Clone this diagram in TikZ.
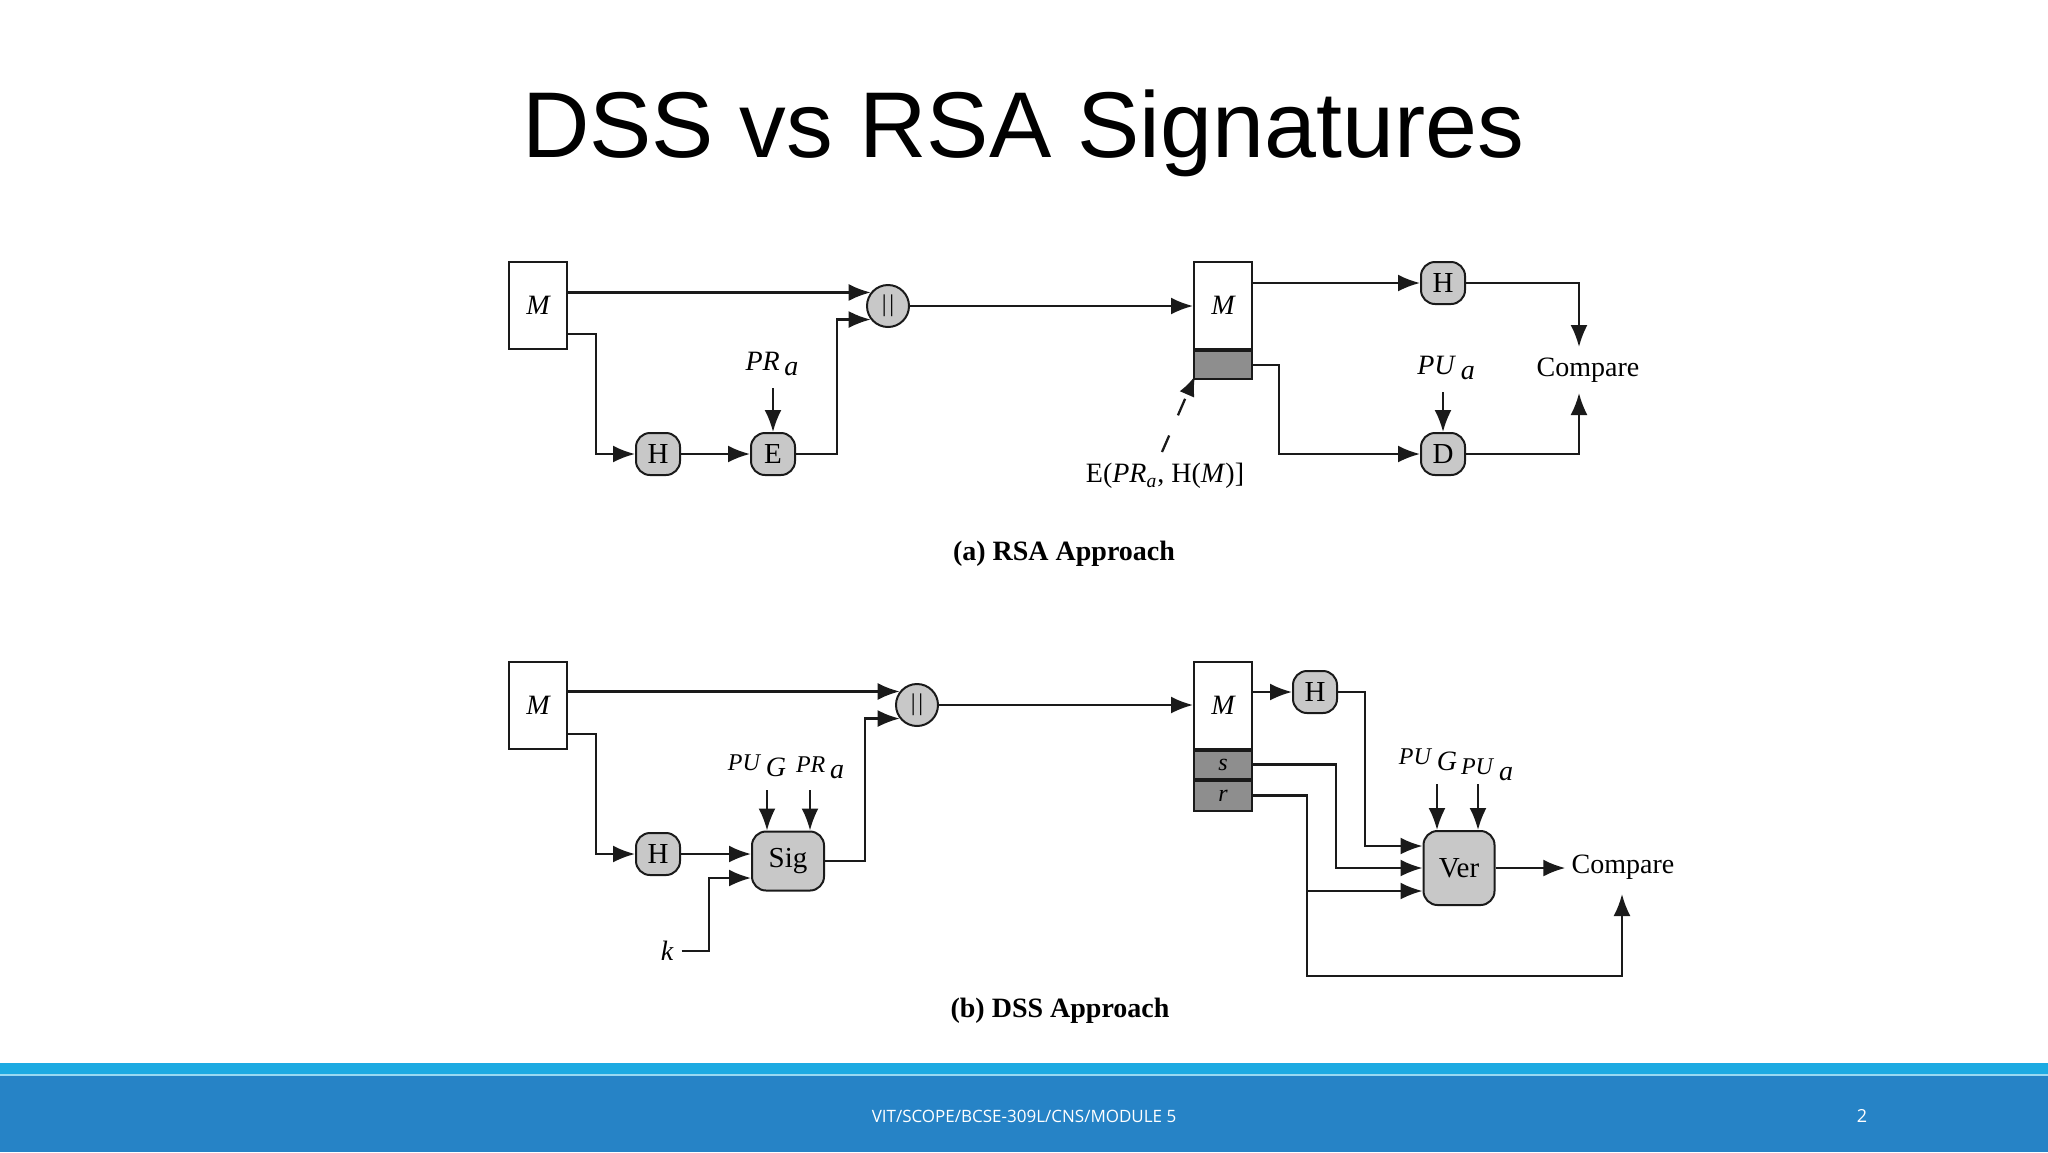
\documentclass[tikz,border=0pt]{standalone}
\usepackage{fontspec}
\setmainfont{Liberation Serif}
\newfontfamily\titlefont{Liberation Sans}
\newfontfamily\footfont{Open Sans}
\usetikzlibrary{arrows.meta}
\definecolor{boxgray}{HTML}{C8C8C8}
\definecolor{sigshade}{HTML}{8E8E8E}
\definecolor{stripeblue}{HTML}{1DAAE2}
\definecolor{bandblue}{HTML}{2683C6}
\definecolor{inkcol}{HTML}{1A1A1A}
\begin{document}
\begin{tikzpicture}[x=0.5pt,y=-0.5pt,
  line/.style={draw=inkcol, line width=1.15pt},
  arr/.style={line, -{Latex[length=11pt,width=8.5pt]}},
  fn/.style={draw=inkcol, line width=1pt, fill=boxgray, rounded corners=7pt,
    minimum width=22pt, minimum height=21pt, inner sep=0pt, font=\fontsize{14.5}{16}\selectfont},
  catnode/.style={circle, draw=inkcol, line width=1pt, fill=boxgray, minimum size=21pt,
    inner sep=0pt, font=\fontsize{12}{14}\selectfont},
  msgbox/.style={draw=inkcol, line width=1pt, fill=white, minimum width=29pt,
    minimum height=43.5pt, inner sep=0pt, font=\fontsize{14}{16}\selectfont\itshape},
  sigpart/.style={draw=inkcol, line width=1pt, fill=sigshade, minimum width=29pt,
    inner sep=0pt, font=\fontsize{12}{14}\selectfont\itshape},
  lbl/.style={font=\fontsize{14}{16}\selectfont, inner sep=0pt},
  captext/.style={font=\fontsize{14}{16}\selectfont\bfseries, inner sep=0pt},
]
\useasboundingbox (0,0) rectangle (2048,1152);
\fill[white] (0,0) rectangle (2048,1152);

% footer
\fill[stripeblue] (0,1063) rectangle (2048,1074);
\fill[bandblue] (0,1074) rectangle (2048,1152);
\draw[white!55!stripeblue, line width=0.8pt] (0,1075) -- (2048,1075);
\node[font=\footfont\fontsize{8.5}{10}\selectfont, text=white, inner sep=0pt] (foot) at (1024,1116) {VIT/SCOPE/BCSE-309L/CNS/MODULE 5};
\node[font=\footfont\fontsize{9}{10}\selectfont, text=white, inner sep=0pt] (pnum) at (1862,1116) {2};

% title
\node[font=\titlefont\fontsize{46.7}{50}\selectfont, anchor=base, inner sep=0pt] (title) at (1023,157) {DSS vs RSA Signatures};

% ---------------- (a) RSA approach ----------------
\node[msgbox] (Ma) at (538,305.5) {M};
\node[catnode] (cata) at (888,306) {|\kern1.4pt|};
\node[fn] (Ha) at (658,454) {H};
\node[fn] (Ea) at (773,454) {E};
\node[lbl] (PRa) at (772,364) {\textit{PR}\,\raisebox{-0.45ex}{\textit{a}}};
\node[msgbox] (M2a) at (1223,305.5) {M};
\node[sigpart, minimum height=14pt, anchor=north] (S2a) at (M2a.south) {};
\node[fn] (H2a) at (1443,283) {H};
\node[fn] (Da) at (1443,454) {D};
\node[lbl] (PUa) at (1446,368) {\textit{PU}\,\raisebox{-0.45ex}{\textit{a}}};
\node[lbl] (cmpa) at (1588,370) {Compare};
\node[lbl] (sigla) at (1165,476) {E(\textit{PR}\textsubscript{\textit{a}}, H(\textit{M})]};
\node[captext] (capa) at (1064,554) {(a) RSA Approach};

\draw[arr] (Ma.east |- cata.142) -- (cata.142);
\coordinate (a1) at (596,334);
\draw[arr] (Ma.east |- a1) -- (a1) |- (Ha.west);
\draw[arr] (Ha) -- (Ea);
\draw[arr] (Ea.north |- 0,388) -- (Ea.north);
\coordinate (a2) at (837,454);
\draw[arr] (Ea) -- (a2) |- (cata.218);
\draw[arr] (cata) -- (M2a.west |- cata);
\draw[arr] (M2a.east |- H2a) -- (H2a);
\draw[arr] (H2a) -| (1579,347);
\draw[arr] (Da) -| (1579,393);
\coordinate (a4) at (1279,363);
\draw[arr] (S2a.east) -- (S2a.east -| a4) |- (Da);
\draw[arr] (Da.north |- 0,392) -- (Da.north);
\draw[line, dash pattern=on 9pt off 11pt, -{Latex[length=10pt,width=8pt]}] (1162,452) -- ([shift={(1pt,2pt)}]S2a.south west);

% ---------------- (b) DSS approach ----------------
\node[msgbox] (Mb) at (538,705) {M};
\node[catnode] (catb) at (917,705) {|\kern1.4pt|};
\node[fn] (Hb) at (658,854) {H};
\node[fn, minimum width=36pt, minimum height=29.5pt] (Sig) at (788,861) {Sig};
\node[lbl, font=\fontsize{14}{16}\selectfont\itshape] (k) at (667,951) {k};
\node[lbl] (PUGb) at (757,766) {\textit{\fontsize{12}{14}\selectfont PU}\,\raisebox{-0.45ex}{\textit{G}}};
\node[lbl] (PRb) at (820,768) {\textit{\fontsize{12}{14}\selectfont PR}\,\raisebox{-0.45ex}{\textit{a}}};
\node[msgbox] (M2b) at (1223,705) {M};
\node[sigpart, minimum height=14pt, anchor=north] (Sb) at (M2b.south) {s};
\node[sigpart, minimum height=15pt, anchor=north] (Rb) at (Sb.south) {r};
\node[fn] (H2b) at (1315,692) {H};
\node[fn, minimum width=35.5pt, minimum height=37pt] (Ver) at (1459,868) {Ver};
\node[lbl] (PUGv) at (1428,760) {\textit{\fontsize{12}{14}\selectfont PU}\,\raisebox{-0.45ex}{\textit{G}}};
\node[lbl] (PUav) at (1487,770) {\textit{\fontsize{12}{14}\selectfont PU}\,\raisebox{-0.45ex}{\textit{a}}};
\node[lbl] (cmpb) at (1623,867) {Compare};
\node[captext] (capb) at (1060,1011) {(b) DSS Approach};

\draw[arr] (Mb.east |- catb.142) -- (catb.142);
\coordinate (b1) at (596,734);
\draw[arr] (Mb.east |- b1) -- (b1) |- (Hb.west);
\draw[arr] (Hb.east) -- (Sig.west |- Hb.east);
\coordinate (b2) at (709,878);
\draw[arr] ([xshift=4pt]k.east) -| (b2) -- (Sig.west |- b2);
\draw[arr] (767,790) -- (Sig.north -| 767,0);
\draw[arr] (810,790) -- (Sig.north -| 810,0);
\coordinate (b3) at (865,861);
\draw[arr] (Sig.east) -- (Sig.east -| b3) |- (catb.218);
\draw[arr] (catb) -- (M2b.west |- catb);
\draw[arr] (M2b.east |- H2b) -- (H2b);
\coordinate (b4) at (1365,692);
\draw[arr] (H2b) -- (b4) |- (Ver.west |- 0,846);
\coordinate (b5) at (1336,762);
\draw[arr] (Sb.east) -- (Sb.east -| b5) |- (Ver.west);
\coordinate (b6) at (1307,791);
\draw[arr] (Rb.east) -- (Rb.east -| b6) |- (1622,976) -- (1622,894);
\draw[arr] (b6 |- 0,891) -- (Ver.west |- 0,891);
\draw[arr] (1437,784) -- (Ver.north -| 1437,0);
\draw[arr] (1478,784) -- (Ver.north -| 1478,0);
\draw[arr] (Ver.east) -- ([xshift=-3pt]cmpb.west |- Ver.east);
\end{tikzpicture}
\end{document}
